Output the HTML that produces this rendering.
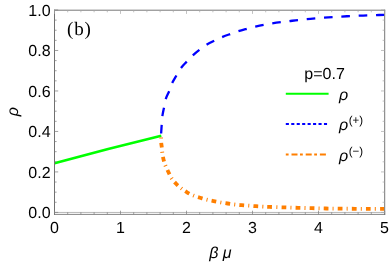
<!DOCTYPE html>
<html lang="en"><head><meta charset="utf-8"><title>rho vs beta mu (b)</title>
<style>html,body{margin:0;padding:0;background:#fff}body{width:390px;height:267px;overflow:hidden}svg{display:block}#w{will-change:transform;width:390px;height:267px}</style>
</head><body>
<div id="w">
<svg width="390" height="267" viewBox="0 0 390 267">
<rect x="0" y="0" width="390" height="267" fill="#ffffff"/>
<defs><clipPath id="pc"><rect x="54.50" y="10.00" width="330.00" height="204.20"/></clipPath></defs>
<g clip-path="url(#pc)" fill="none">
<path d="M54.5 163.3 Q107.9 148.6 161.3 135.75" stroke="#00ff00" stroke-width="2.6"/>
<path d="M161.10 133.80 C161.20 132.33 161.48 127.98 161.70 125.00 C161.92 122.02 162.02 118.78 162.40 115.90 C162.78 113.02 163.43 110.55 164.00 107.70 C164.57 104.85 164.93 101.55 165.80 98.80 C166.67 96.05 168.12 93.87 169.20 91.20 C170.28 88.53 171.08 85.43 172.30 82.80 C173.52 80.17 175.02 77.92 176.50 75.40 C177.98 72.88 179.47 70.02 181.20 67.70 C182.93 65.38 184.92 63.60 186.90 61.50 C188.88 59.40 191.00 57.07 193.10 55.10 C195.20 53.13 197.20 51.45 199.50 49.70 C201.80 47.95 204.45 46.08 206.90 44.60 C209.35 43.12 211.58 42.08 214.20 40.80 C216.82 39.52 219.92 38.03 222.60 36.90 C225.28 35.77 227.67 34.95 230.30 34.00 C232.93 33.05 235.63 32.07 238.40 31.20 C241.17 30.33 244.07 29.57 246.90 28.80 C249.73 28.03 252.58 27.27 255.40 26.60 C258.22 25.93 260.98 25.33 263.80 24.80 C266.62 24.27 269.47 23.83 272.30 23.40 C275.13 22.97 277.93 22.58 280.80 22.20 C283.67 21.82 286.60 21.47 289.50 21.10 C292.40 20.73 295.30 20.32 298.20 20.00 C301.10 19.68 303.98 19.47 306.90 19.20 C309.82 18.93 312.82 18.65 315.70 18.40 C318.58 18.15 321.32 17.92 324.20 17.70 C327.08 17.48 330.17 17.28 333.00 17.10 C335.83 16.92 338.37 16.77 341.20 16.60 C344.03 16.43 347.07 16.25 350.00 16.10 C352.93 15.95 355.90 15.82 358.80 15.70 C361.70 15.58 364.50 15.50 367.40 15.40 C370.30 15.30 373.35 15.20 376.20 15.10 C379.05 15.00 383.12 14.85 384.50 14.80" stroke="#0000ff" stroke-width="2.3" stroke-dasharray="8.6 8.76" stroke-dashoffset="-0.35"/>
<path d="M161.10 137.40 C161.12 138.27 161.08 140.95 161.20 142.60 C161.32 144.25 161.63 145.73 161.80 147.30 C161.97 148.87 162.02 150.45 162.20 152.00 C162.38 153.55 162.58 155.02 162.90 156.60 C163.22 158.18 163.67 159.97 164.10 161.50 C164.53 163.03 164.78 164.05 165.50 165.80 C166.22 167.55 167.40 169.93 168.40 172.00 C169.40 174.07 170.22 176.23 171.50 178.20 C172.78 180.17 174.43 182.08 176.10 183.80 C177.77 185.52 179.68 187.08 181.50 188.50 C183.32 189.92 185.00 191.12 187.00 192.30 C189.00 193.48 191.32 194.68 193.50 195.60 C195.68 196.52 197.88 197.12 200.10 197.80 C202.32 198.48 204.55 199.15 206.80 199.70 C209.05 200.25 211.27 200.63 213.60 201.10 C215.93 201.57 218.45 202.10 220.80 202.50 C223.15 202.90 225.40 203.17 227.70 203.50 C230.00 203.83 232.27 204.22 234.60 204.50 C236.93 204.78 239.32 205.00 241.70 205.20 C244.08 205.40 246.52 205.53 248.90 205.70 C251.28 205.87 253.68 206.05 256.00 206.20 C258.32 206.35 260.50 206.48 262.80 206.60 C265.10 206.72 266.27 206.77 269.80 206.90 C273.33 207.03 279.30 207.25 284.00 207.40 C288.70 207.55 293.33 207.67 298.00 207.80 C302.67 207.93 307.33 208.08 312.00 208.20 C316.67 208.32 321.33 208.43 326.00 208.50 C330.67 208.57 335.17 208.60 340.00 208.65 C344.83 208.70 350.00 208.76 355.00 208.80 C360.00 208.84 365.08 208.88 370.00 208.90 C374.92 208.93 382.08 208.94 384.50 208.95" stroke="#ff7f00" stroke-width="3.8" stroke-dasharray="1 4.15 4.77 4.15" stroke-dashoffset="-0.27"/>
</g>
<g fill="none">
<path d="M54.50 212.45 H384.70" stroke="#9a9a9a" stroke-width="0.7"/>
<path d="M54.50 9.70 V214.80" stroke="#707070" stroke-width="1"/>
<path d="M384.70 9.70 V214.80" stroke="#777777" stroke-width="1"/>
<path d="M54.00 10.20 H385.20" stroke="#777777" stroke-width="1"/>
<path d="M54.00 214.40 H385.20" stroke="#666666" stroke-width="0.8"/>
</g>
<path d="M54.50 214.40 v-3.70 M67.70 214.40 v-2.10 M80.90 214.40 v-2.10 M94.10 214.40 v-2.10 M107.30 214.40 v-2.10 M120.50 214.40 v-3.70 M133.70 214.40 v-2.10 M146.90 214.40 v-2.10 M160.10 214.40 v-2.10 M173.30 214.40 v-2.10 M186.50 214.40 v-3.70 M199.70 214.40 v-2.10 M212.90 214.40 v-2.10 M226.10 214.40 v-2.10 M239.30 214.40 v-2.10 M252.50 214.40 v-3.70 M265.70 214.40 v-2.10 M278.90 214.40 v-2.10 M292.10 214.40 v-2.10 M305.30 214.40 v-2.10 M318.50 214.40 v-3.70 M331.70 214.40 v-2.10 M344.90 214.40 v-2.10 M358.10 214.40 v-2.10 M371.30 214.40 v-2.10 M384.70 214.40 v-3.70 M54.50 212.40 h3.70 M54.50 202.28 h2.10 M54.50 192.16 h2.10 M54.50 182.04 h2.10 M54.50 171.92 h3.70 M54.50 161.80 h2.10 M54.50 151.68 h2.10 M54.50 141.56 h2.10 M54.50 131.44 h3.70 M54.50 121.32 h2.10 M54.50 111.20 h2.10 M54.50 101.08 h2.10 M54.50 90.96 h3.70 M54.50 80.84 h2.10 M54.50 70.72 h2.10 M54.50 60.60 h2.10 M54.50 50.48 h3.70 M54.50 40.36 h2.10 M54.50 30.24 h2.10 M54.50 20.12 h2.10 M54.50 10.00 h3.70 " stroke="#808080" stroke-width="0.75" fill="none"/>
<path d="M54.50 10.20 v3.70 M67.70 10.20 v2.10 M80.90 10.20 v2.10 M94.10 10.20 v2.10 M107.30 10.20 v2.10 M120.50 10.20 v3.70 M133.70 10.20 v2.10 M146.90 10.20 v2.10 M160.10 10.20 v2.10 M173.30 10.20 v2.10 M186.50 10.20 v3.70 M199.70 10.20 v2.10 M212.90 10.20 v2.10 M226.10 10.20 v2.10 M239.30 10.20 v2.10 M252.50 10.20 v3.70 M265.70 10.20 v2.10 M278.90 10.20 v2.10 M292.10 10.20 v2.10 M305.30 10.20 v2.10 M318.50 10.20 v3.70 M331.70 10.20 v2.10 M344.90 10.20 v2.10 M358.10 10.20 v2.10 M371.30 10.20 v2.10 M384.70 10.20 v3.70 M384.70 212.40 h-3.70 M384.70 202.28 h-2.10 M384.70 192.16 h-2.10 M384.70 182.04 h-2.10 M384.70 171.92 h-3.70 M384.70 161.80 h-2.10 M384.70 151.68 h-2.10 M384.70 141.56 h-2.10 M384.70 131.44 h-3.70 M384.70 121.32 h-2.10 M384.70 111.20 h-2.10 M384.70 101.08 h-2.10 M384.70 90.96 h-3.70 M384.70 80.84 h-2.10 M384.70 70.72 h-2.10 M384.70 60.60 h-2.10 M384.70 50.48 h-3.70 M384.70 40.36 h-2.10 M384.70 30.24 h-2.10 M384.70 20.12 h-2.10 M384.70 10.00 h-3.70 " stroke="#a8a8a8" stroke-width="0.7" fill="none"/>
<g font-family="'Liberation Sans', Arial, Helvetica, sans-serif" font-size="16.0" fill="#000000" text-rendering="geometricPrecision">
<text x="50.6" y="218.40" text-anchor="end">0.0</text>
<text x="50.6" y="177.92" text-anchor="end">0.2</text>
<text x="50.6" y="137.44" text-anchor="end">0.4</text>
<text x="50.6" y="96.96" text-anchor="end">0.6</text>
<text x="50.6" y="56.48" text-anchor="end">0.8</text>
<text x="50.6" y="16.00" text-anchor="end">1.0</text>
<text x="54.50" y="232.7" text-anchor="middle">0</text>
<text x="120.50" y="232.7" text-anchor="middle">1</text>
<text x="186.50" y="232.7" text-anchor="middle">2</text>
<text x="252.50" y="232.7" text-anchor="middle">3</text>
<text x="318.50" y="232.7" text-anchor="middle">4</text>
<text x="384.50" y="232.7" text-anchor="middle">5</text>
<text x="324.6" y="78.9" text-anchor="middle">p=0.7</text>
<text x="339" y="99.7" font-style="italic">ρ</text>
<text x="339.1" y="130.0" font-style="italic">ρ<tspan font-style="normal" font-size="11.5" dx="0.4" dy="-5.6">(+)</tspan></text>
<text x="339.1" y="160.8" font-style="italic">ρ<tspan font-style="normal" font-size="11.5" dx="0.4" dy="-5.6">(−)</tspan></text>
<text x="209.2" y="257.5" font-style="italic">β μ</text>
<text transform="translate(18.2 116.2) rotate(-90)" font-style="italic">ρ</text>
</g>
<text x="67" y="34.8" font-family="'Liberation Serif', 'Times New Roman', Times, serif" font-size="19" letter-spacing="0.8" fill="#000" text-rendering="geometricPrecision">(b)</text>
<g fill="none" stroke-width="2">
<path d="M285.8 93.8 H328.6" stroke="#00ff00"/>
<path d="M285.8 124.05 H327.1" stroke="#0000ff" stroke-dasharray="3.1 2.35"/>
<path d="M285.8 154.6 H325.9" stroke="#ff7f00" stroke-dasharray="2.8 2.9 6 2.5"/>
</g>
</svg>
</div>
</body></html>
